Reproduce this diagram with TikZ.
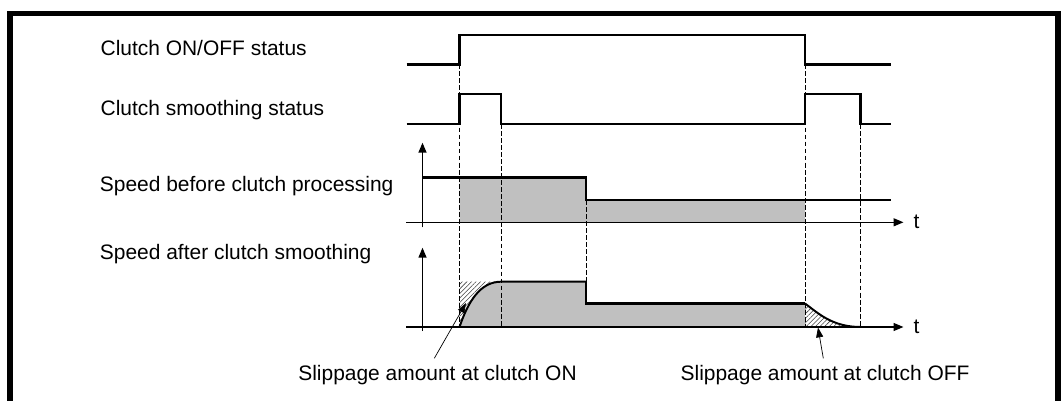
\documentclass[tikz,border=0pt]{standalone}
\usepackage{fontspec}
\setmainfont{Liberation Sans}
\usetikzlibrary{arrows.meta,patterns.meta}
\definecolor{fillgray}{HTML}{C0C0C0}
\tikzset{every picture/.style={line width=0.9pt}}
\tikzset{
  signal/.style={line width=2.1pt},
  axisline/.style={line width=0.95pt, -{Triangle[length=7pt,width=5.6pt]}},
  guide/.style={line width=0.6pt, dash pattern=on 3.4pt off 1.6pt},
  hatched/.style={pattern={Lines[angle=45,distance=2.3pt,line width=0.4pt]}, pattern color=black!75},
  pointer/.style={line width=0.5pt, -{Triangle[length=7pt,width=5pt]}},
  lbl/.style={anchor=base west, inner sep=0pt, font=\fontsize{14.9pt}{17pt}\selectfont}
}

\begin{document}
\begin{tikzpicture}[x=0.025cm, y=-0.025cm]
    \useasboundingbox (0,0) rectangle (1061,401);
    % Rahmen
    \draw[line width=3.9pt] (10,410) -- (10,13.7) -- (1058,13.7) -- (1058,410);
    % Beschriftungen
    \node[lbl] (onoff) at (100,55.7) {Clutch ON/OFF status};
    \node[lbl] (smooth) at (100,115.7) {Clutch smoothing status};
    \node[lbl] (before) at (99.3,191.7) {Speed before clutch processing};
    \node[lbl] (after) at (99.3,259) {Speed after clutch smoothing};
    \node[lbl, anchor=base] (slipon) at (437.5,380) {Slippage amount at clutch ON};
    \node[lbl] (slipoff) at (680,380) {Slippage amount at clutch OFF};
    \node[lbl] (t1) at (913,228.3) {t};
    \node[lbl] (t2) at (913,333.3) {t};
    % Flaechen
    \fill[fillgray] (459.5,177.5) -- (586,177.5) -- (586,200) -- (805,200) -- (805,222.3) -- (459.5,222.3) -- cycle;
    \fill[fillgray] (459.5,327) .. controls (468,302) and (480,281.7) .. (501,281.7) -- (586,281.7) -- (586,303.5)
        -- (805,303.5) -- (805,327) -- cycle;
    \fill[hatched] (459.5,281.7) -- (501,281.7) .. controls (480,281.7) and (468,302) .. (459.5,327) -- cycle;
    \fill[hatched] (805,303.5) .. controls (818,313) and (832,327) .. (860.7,327) -- (805,327) -- cycle;
    % Hilfslinien
    \draw[guide] (459.5,64.3) -- (459.5,327);
    \draw[guide] (501,124) -- (501,327);
    \draw[guide] (586,200) -- (586,281.7);
    \draw[guide] (805,64.3) -- (805,327);
    \draw[guide] (860.7,124) -- (860.7,327);
    % Signale
    \draw[signal] (406.7,64.3) -- (459.5,64.3) -- (459.5,35) -- (805,35) -- (805,64.3) -- (891,64.3);
    \draw[signal] (406.7,124) -- (459.5,124) -- (459.5,94) -- (501,94) -- (501,124) -- (805,124) -- (805,94)
        -- (860.7,94) -- (860.7,124) -- (891,124);
    % Geschwindigkeiten
    \draw[signal] (422.5,177.5) -- (586,177.5) -- (586,200) -- (891,200);
    \draw[line width=1.4pt] (459.5,327) .. controls (468,302) and (480,281.7) .. (501,281.7) -- (586,281.7);
    \draw[signal] (586,281.7) -- (586,303.5) -- (805,303.5);
    \draw[line width=1.4pt] (805,303.5) .. controls (818,313) and (832,327) .. (860.7,327);
    % Achsen
    \draw[axisline] (422.5,227.3) -- (422.5,142.7);
    \draw[axisline] (406,222.3) -- (903.5,222.3);
    \draw[axisline] (422.5,331) -- (422.5,247.7);
    \draw[axisline] (406,327) -- (903.5,327);
    % Zeiger
    \coordinate (onfoot) at (434.3,358.3);
    \coordinate (ontip) at (466,303);
    \coordinate (offfoot) at (823.3,358.3);
    \coordinate (offtip) at (818,327.5);
    \draw[pointer] (onfoot) -- (ontip);
    \draw[pointer] (offfoot) -- (offtip);
\end{tikzpicture}
\end{document}
